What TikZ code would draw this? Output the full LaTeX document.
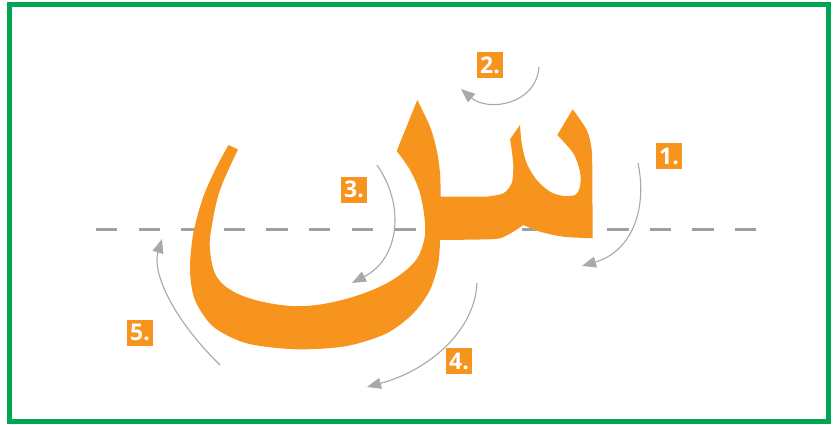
\documentclass[tikz,border=0pt]{standalone}
\usepackage{fontspec}
\setmainfont{Open Sans}
\usetikzlibrary{arrows.meta}
\definecolor{ltorange}{HTML}{F7941D}
\definecolor{ltgreen}{HTML}{00A651}
\definecolor{arrowgray}{HTML}{A7A9AC}
\definecolor{dashgray}{HTML}{9D9FA2}
\begin{document}
\begin{tikzpicture}[x=1pt,y=-1pt,
  numlabel/.style={fill=ltorange, text=white, font=\bfseries\fontsize{23}{23}\selectfont, minimum width=26pt, minimum height=26pt, inner sep=0pt},
  strokearrow/.style={draw=arrowgray, line width=1.1pt, -{Triangle[length=14pt,width=11pt]}},
  baseline/.style={draw=dashgray, line width=2.3pt, dash pattern=on 21.3pt off 21.3pt},
  frame/.style={draw=ltgreen, line width=5pt}]
\useasboundingbox (0,0) rectangle (838,425);
\fill[white] (0,0) rectangle (838,425);
\draw[frame] (9.5,4.3) rectangle (828.5,421.7);
% baseline
\coordinate (bl) at (96,229.5);
\coordinate (br) at (757.5,229.5);
\draw[baseline] (bl) -- (br);
% letter seen
\fill[ltorange] (228.5,145) -- (238,149.5)
 -- plot[smooth, tension=0.6] coordinates {(238,149.5) (220,190) (211.7,226.7) (210,250) (216.7,276.7) (236.7,293.3) (270,303.3) (306.7,306) (348.3,298.3) (386.7,283.3) (413.3,263.3) (423.3,243.3) (425,223.3) (420,193.3) (410,170) (396.7,151)}
 -- (417.3,100)
 -- plot[smooth] coordinates {(417.3,100) (430,126.7) (436.7,150) (440,173.3) (440.7,196.5)}
 -- (488,196.5)
 -- plot[smooth] coordinates {(488,196.5) (503.3,193.3) (511.7,183.3) (513.3,166.7) (511.7,150) (510,139.3)}
 -- (520,125)
 -- plot[smooth] coordinates {(520,125) (521.7,143.3) (526.7,163.3) (536.7,180) (550,191.7) (563.3,196) (575,195) (580,186.7) (580,171.7) (573.3,153.3) (557.3,135)}
 -- (572.7,109.3)
 -- plot[smooth] coordinates {(572.7,109.3) (586.7,130) (591.7,150) (592.3,180) (592.7,238.3)}
 -- plot[smooth] coordinates {(592.7,238.3) (563.3,236.7) (540,231.7) (523.3,225)}
 -- plot[smooth] coordinates {(523.3,225) (513.3,231.7) (500,238.3) (480,239.5) (440,240)}
 -- plot[smooth] coordinates {(440,240) (438.3,263.3) (430,290) (413.3,313.3) (386.7,333.3) (346.7,346) (296.7,349.3) (246.7,343.3) (213.3,326.7) (195,300) (190,270) (193.3,233.3) (203.3,196.7) (216.7,166.7) (228.5,145)}
 -- cycle;
% labels
\node[numlabel] (l1) at (669,156) {1.};
\node[numlabel] (l2) at (490,65.5) {2.};
\node[numlabel] (l3) at (354,189.5) {3.};
\node[numlabel] (l4) at (459,361) {4.};
\node[numlabel] (l5) at (140,332.5) {5.};
% arrows
\coordinate (a1s) at (638,163);  \coordinate (a1e) at (582,266);
\coordinate (a2s) at (539,67);   \coordinate (a2e) at (461,89);
\coordinate (a3s) at (377,165);  \coordinate (a3e) at (352,283);
\coordinate (a4s) at (477,283);  \coordinate (a4e) at (367,387);
\coordinate (a5s) at (220,365);  \coordinate (a5e) at (162,239);
\draw[strokearrow] (a1s) .. controls (648,212) and (630,252) .. (a1e);
\draw[strokearrow] (a2s) .. controls (536,105) and (488,112) .. (a2e);
\draw[strokearrow] (a3s) .. controls (405,205) and (400,258) .. (a3e);
\draw[strokearrow] (a4s) .. controls (475,330) and (430,370) .. (a4e);
\draw[strokearrow] (a5s) .. controls (172,318) and (152,272) .. (a5e);
\end{tikzpicture}
\end{document}
